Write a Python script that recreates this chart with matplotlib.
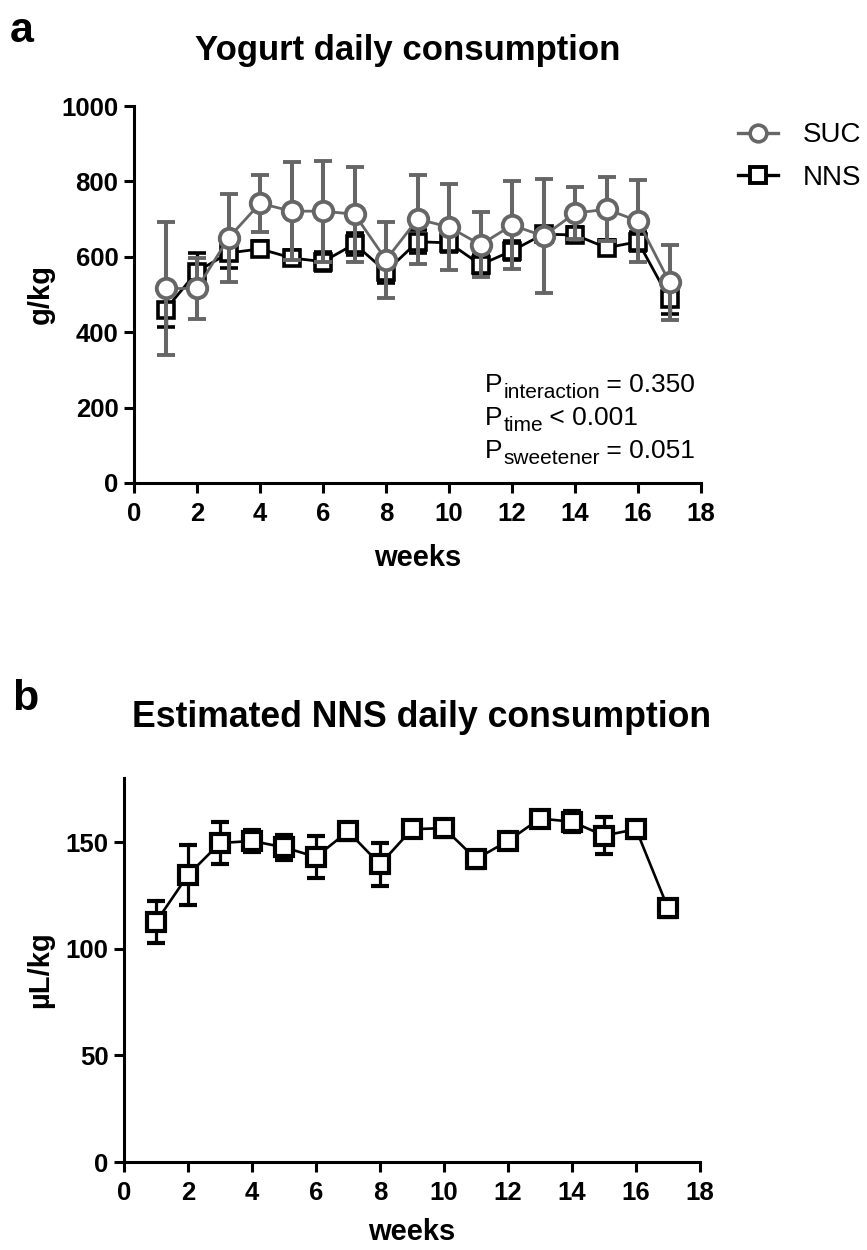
import matplotlib
matplotlib.use("Agg")
import matplotlib.pyplot as plt
from matplotlib.lines import Line2D

plt.rcParams['font.family'] = ['Liberation Sans', 'DejaVu Sans']

weeks = list(range(1, 18))

# panel a - yogurt (g/kg)
suc_mean = [516, 516, 650, 742, 721, 721, 713, 592, 700, 679, 632, 684, 655, 716, 726, 695, 532]
suc_err = [176, 80, 116, 75, 130, 134, 126, 100, 118, 115, 86, 117, 152, 70, 85, 108, 100]
nns_mean = [460, 561, 610, 621, 597, 587, 634, 561, 640, 637, 579, 616, 660, 658, 624, 640, 487]
nns_err = [45, 50, 40, 20, 20, 25, 30, 30, 30, 25, 25, 25, 20, 20, 20, 25, 40]

# panel b - estimated NNS (uL/kg)
est_mean = [112.5, 134.5, 149.5, 150.5, 147.5, 143, 155, 139.5, 156, 156.5, 142, 150.5, 161, 159.5, 153, 156, 119]
est_err = [10, 14, 10, 5, 6, 10, 4, 10, 3, 4, 4, 3, 2, 5, 8.5, 4, 4]

# stats: (subscript, rest)
stats = [('interaction', ' = 0.350'),
         ('time', ' < 0.001'),
         ('sweetener', ' = 0.051')]

grey = '#666666'

fig = plt.figure(figsize=(8.67, 12.5), dpi=100)
ax1 = fig.add_axes([0.1546, 0.6136, 0.654, 0.3016])
ax2 = fig.add_axes([0.1430, 0.0704, 0.6644, 0.3072])


def style_axis(ax):
    for side in ['top', 'right']:
        ax.spines[side].set_visible(False)
    for side in ['left', 'bottom']:
        ax.spines[side].set_linewidth(2.2)
    ax.tick_params(width=2.2, length=7.2, labelsize=18.5, direction='out')
    ax.tick_params(axis='x', pad=6.5)
    ax.tick_params(axis='y', pad=4)
    for lab in ax.get_xticklabels() + ax.get_yticklabels():
        lab.set_fontweight('bold')
    ax.set_xlim(0, 18)
    ax.set_xticks(range(0, 19, 2))
    ax.set_xlabel('weeks', fontsize=21, fontweight='bold')


ax1.errorbar(weeks, nns_mean, yerr=nns_err, color='black', marker='s', markersize=12,
             markerfacecolor='white', markeredgewidth=2.6, linewidth=2, elinewidth=2.4,
             capsize=6.5, capthick=2.4, zorder=3)
ax1.errorbar(weeks, suc_mean, yerr=suc_err, color=grey, marker='o', markersize=14,
             markerfacecolor='white', markeredgewidth=2.8, linewidth=2, elinewidth=2.9,
             capsize=6.5, capthick=2.9, zorder=4)
ax1.set_ylim(0, 1000)
ax1.set_yticks(range(0, 1001, 200))
style_axis(ax1)
ax1.set_ylabel('g/kg', fontsize=21, fontweight='bold')
ax1.yaxis.set_label_coords(-0.14, 0.5)
ax1.xaxis.set_label_coords(0.5, -0.163)

# stats text with larger subscripts
for i, (sub, rest) in enumerate(stats):
    y = [0.2414, 0.1538, 0.0663][i]
    t = ax1.text(0.619, y, 'P', transform=ax1.transAxes, fontsize=19, va='baseline')
    s = ax1.annotate(sub, xy=(1, 0), xycoords=t, xytext=(0.5, -3.5),
                     textcoords='offset points', fontsize=15, va='bottom')
    ax1.annotate(rest, xy=(1, 0), xycoords=s, xytext=(-0.5, 3.5),
                 textcoords='offset points', fontsize=19, va='bottom')

handles = [Line2D([], [], color=grey, marker='o', markersize=12, markerfacecolor='white',
                  markeredgewidth=2.6, linewidth=2.4),
           Line2D([], [], color='black', marker='s', markersize=11, markerfacecolor='white',
                  markeredgewidth=2.8, linewidth=2.4)]
ax1.legend(handles, ['SUC', 'NNS'], loc='upper left', bbox_to_anchor=(0.851, 0.902),
           bbox_transform=fig.transFigure, frameon=False, fontsize=20,
           handlelength=1.44, handletextpad=0.9, labelspacing=0.6,
           borderpad=0, borderaxespad=0)

ax2.errorbar(weeks, est_mean, yerr=est_err, color='black', marker='s', markersize=13,
             markerfacecolor='white', markeredgewidth=3.0, linewidth=1.9, elinewidth=2.3,
             capsize=6.5, capthick=2.3, zorder=3)
ax2.set_ylim(0, 180)
ax2.set_yticks([0, 50, 100, 150])
style_axis(ax2)
ax2.set_ylabel('\u00b5L/kg', fontsize=21, fontweight='bold')
ax2.yaxis.set_label_coords(-0.122, 0.5)
ax2.xaxis.set_label_coords(0.5, -0.147)

fig.text(408 / 867, 1 - 60 / 1250, 'Yogurt daily consumption', fontsize=25,
         fontweight='bold', ha='center', va='baseline')
fig.text(422 / 867, 1 - 727 / 1250, 'Estimated NNS daily consumption', fontsize=25.7,
         fontweight='bold', ha='center', va='baseline')

fig.text(10 / 867, 1 - 42 / 1250, 'a', fontsize=31, fontweight='bold', va='baseline')
fig.text(12 / 867, 1 - 710 / 1250, 'b', fontsize=31, fontweight='bold', va='baseline')

fig.savefig('out.png', dpi=100)
